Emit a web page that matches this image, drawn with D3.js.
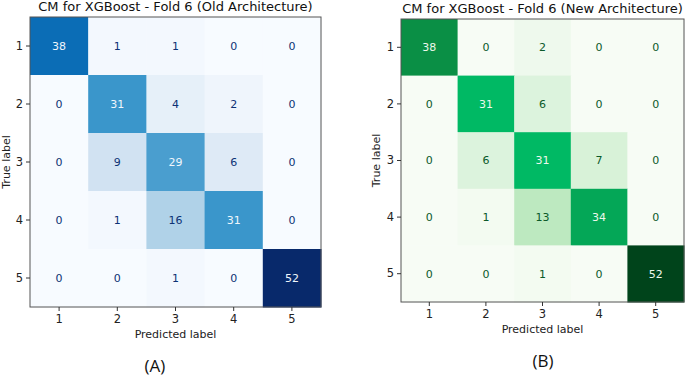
<!DOCTYPE html>
<html>
<head>
<meta charset="utf-8">
<script src="https://cdn.jsdelivr.net/npm/d3@7"></script>
<style>
  body { margin: 0; background: #fff; }
  svg text { font-family: "DejaVu Sans", sans-serif; }
</style>
</head>
<body>
<div id="chart"></div>
<script>
// Class labels (same for true and predicted)
const classes = ["1", "2", "3", "4", "5"];

// Confusion matrix, old architecture (rows = true label)
const cmOld = [
  [38, 1, 1, 0, 0],
  [0, 31, 4, 2, 0],
  [0, 9, 29, 6, 0],
  [0, 1, 16, 31, 0],
  [0, 0, 1, 0, 52]
];

// Confusion matrix, new architecture
const cmNew = [
  [38, 0, 2, 0, 0],
  [0, 31, 6, 0, 0],
  [0, 6, 31, 7, 0],
  [0, 1, 13, 34, 0],
  [0, 0, 1, 0, 52]
];

const W = 685, H = 379;
const svg = d3.select("#chart").append("svg")
  .attr("width", W)
  .attr("height", H);

function drawCM(cfg) {
  const { data, title, tag, box, color, darkText, lightText } = cfg;
  const g = svg.append("g");

  const x = d3.scaleBand().domain(classes).range([box.x0, box.x1]);
  const y = d3.scaleBand().domain(classes).range([box.y0, box.y1]);
  const vmax = d3.max(data.flat());

  const cells = data.flatMap((row, i) =>
    row.map((v, j) => ({ t: classes[i], p: classes[j], v })));

  g.selectAll("rect.cell")
    .data(cells)
    .enter().append("rect")
      .attr("class", "cell")
      .attr("x", d => x(d.p))
      .attr("y", d => y(d.t))
      .attr("width", x.bandwidth() + 0.5)
      .attr("height", y.bandwidth() + 0.5)
      .attr("fill", d => color(d.v));

  g.selectAll("text.val")
    .data(cells)
    .enter().append("text")
      .attr("class", "val")
      .attr("x", d => x(d.p) + x.bandwidth() / 2)
      .attr("y", d => y(d.t) + y.bandwidth() / 2)
      .attr("dy", "0.35em")
      .attr("text-anchor", "middle")
      .attr("font-size", 11)
      .attr("fill", d => d.v > vmax / 2 ? lightText : darkText)
      .text(d => d.v);

  // frame
  g.append("rect")
    .attr("x", box.x0).attr("y", box.y0)
    .attr("width", box.x1 - box.x0).attr("height", box.y1 - box.y0)
    .attr("fill", "none").attr("stroke", "#555").attr("stroke-width", 1);

  // axes
  const ax = g.append("g")
    .attr("transform", `translate(0,${box.y1})`)
    .call(d3.axisBottom(x).tickSize(4).tickPadding(4));
  const ay = g.append("g")
    .attr("transform", `translate(${box.x0},0)`)
    .call(d3.axisLeft(y).tickSize(4).tickPadding(3));
  [ax, ay].forEach(a => {
    a.select(".domain").remove();
    a.selectAll("line").attr("stroke", "#333");
    a.selectAll("text").attr("font-size", 11.5).attr("fill", "#222")
      .style("font-family", "DejaVu Sans, sans-serif");
  });

  const cx = (box.x0 + box.x1) / 2;
  g.append("text")
    .attr("x", cx).attr("y", box.y0 - 6)
    .attr("text-anchor", "middle")
    .attr("font-size", 13).attr("fill", "#111")
    .text(title);

  g.append("text")
    .attr("x", cx).attr("y", box.y1 + 31)
    .attr("text-anchor", "middle")
    .attr("font-size", 11).attr("fill", "#222")
    .text("Predicted label");

  g.append("text")
    .attr("transform", `translate(${cfg.ylabX},${(box.y0 + box.y1) / 2}) rotate(-90)`)
    .attr("text-anchor", "middle")
    .attr("font-size", 11).attr("fill", "#222")
    .text("True label");

  g.append("text")
    .attr("x", cfg.tagX).attr("y", cfg.tagY)
    .attr("text-anchor", "middle")
    .attr("font-size", 17).attr("fill", "#111")
    .style("font-family", "Open Sans, sans-serif")
    .text(tag);
}

drawCM({
  data: cmOld,
  title: "CM for XGBoost - Fold 6 (Old Architecture)",
  tag: "(A)",
  box: { x0: 30, x1: 321, y0: 17, y1: 307 },
  color: d3.scaleLinear()
    .domain([0, 9, 16, 31, 38, 52])
    .range(["#f7fbff", "#d1e2f2", "#b0d2e8", "#3a96cb", "#0b6db6", "#08296b"]),
  darkText: "#0d3275",
  lightText: "#f0f6fc",
  ylabX: 10, tagX: 155, tagY: 372
});

drawCM({
  data: cmNew,
  title: "CM for XGBoost - Fold 6 (New Architecture)",
  tag: "(B)",
  box: { x0: 401, x1: 684, y0: 19, y1: 302 },
  color: d3.scaleLinear()
    .domain([0, 13, 31, 38, 52])
    .range(["#f7fcf5", "#bde9c0", "#00b964", "#0a8f45", "#00441b"]),
  darkText: "#0b5a2a",
  lightText: "#eef8ec",
  ylabX: 380, tagX: 543, tagY: 367
});
</script>
</body>
</html>
